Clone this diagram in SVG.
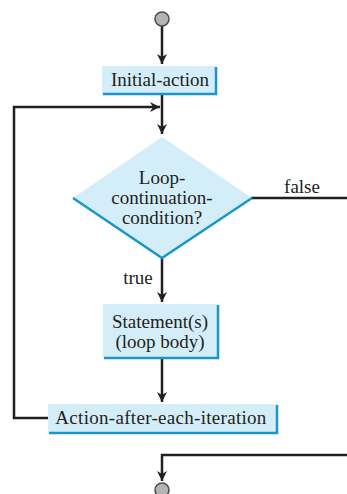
<svg xmlns="http://www.w3.org/2000/svg" width="347" height="494" viewBox="0 0 347 494">
  <defs>
    <marker id="arrow" viewBox="0 0 10 12" refX="10" refY="6" markerWidth="10" markerHeight="12" markerUnits="userSpaceOnUse" orient="auto">
      <path d="M0,1 L10,6 L0,11 L3,6 Z" fill="#231f20"/>
    </marker>
  </defs>
  <style>
    .box { fill: #d4eef9; }
    .shadow { fill: none; stroke: #1a96c8; stroke-width: 2.5; }
    .edge { fill: none; stroke: #231f20; stroke-width: 2.5; }
    .label { font-family: "Liberation Serif", "DejaVu Serif", serif; font-size: 19px; fill: #231f20; text-anchor: middle; }
    .terminal { fill: #b4b4b8; stroke: #4a4a4a; stroke-width: 1.5; }
  </style>
  <rect width="347" height="494" fill="#ffffff"/>

  <!-- connectors -->
  <g id="connectors">
    <path class="edge" d="M162,26 V64" marker-end="url(#arrow)"/>
    <path class="edge" d="M162,95 V134" marker-end="url(#arrow)"/>
    <path class="edge" d="M48,418 H14 V107 H160" marker-end="url(#arrow)"/>
    <path class="edge" d="M251,198 H347"/>
    <path class="edge" d="M162,258 V302" marker-end="url(#arrow)"/>
    <path class="edge" d="M162,359 V402" marker-end="url(#arrow)"/>
    <path class="edge" d="M347,455 H162 V481" marker-end="url(#arrow)"/>
    <text class="label" x="302" y="193">false</text>
    <text class="label" x="138" y="284">true</text>
  </g>

  <!-- start -->
  <g id="start">
    <circle class="terminal" cx="162" cy="19" r="7"/>
  </g>

  <!-- initial action -->
  <g id="initial-action">
    <rect class="box" x="102" y="66" width="114" height="28"/>
    <path class="shadow" d="M103,94 H216 V67"/>
    <text class="label" x="160" y="86">Initial-action</text>
  </g>

  <!-- loop condition -->
  <g id="condition">
    <polygon class="box" points="162,137 252,198 162,258 73,198"/>
    <path class="shadow" d="M73,198 L162,258 L252,198"/>
    <text class="label" x="162" y="184">Loop-</text>
    <text class="label" x="162" y="204">continuation-</text>
    <text class="label" x="162" y="224">condition?</text>
  </g>

  <!-- loop body -->
  <g id="statements">
    <rect class="box" x="103" y="304" width="115" height="54"/>
    <path class="shadow" d="M104,358 H218 V305"/>
    <text class="label" x="160" y="328">Statement(s)</text>
    <text class="label" x="160" y="348">(loop body)</text>
  </g>

  <!-- update action -->
  <g id="action-after">
    <rect class="box" x="48" y="404" width="229" height="29"/>
    <path class="shadow" d="M49,433 H277 V405"/>
    <text class="label" x="161" y="424" letter-spacing="0.3">Action-after-each-iteration</text>
  </g>

  <!-- end -->
  <g id="end">
    <circle class="terminal" cx="162" cy="490" r="7"/>
  </g>
</svg>
